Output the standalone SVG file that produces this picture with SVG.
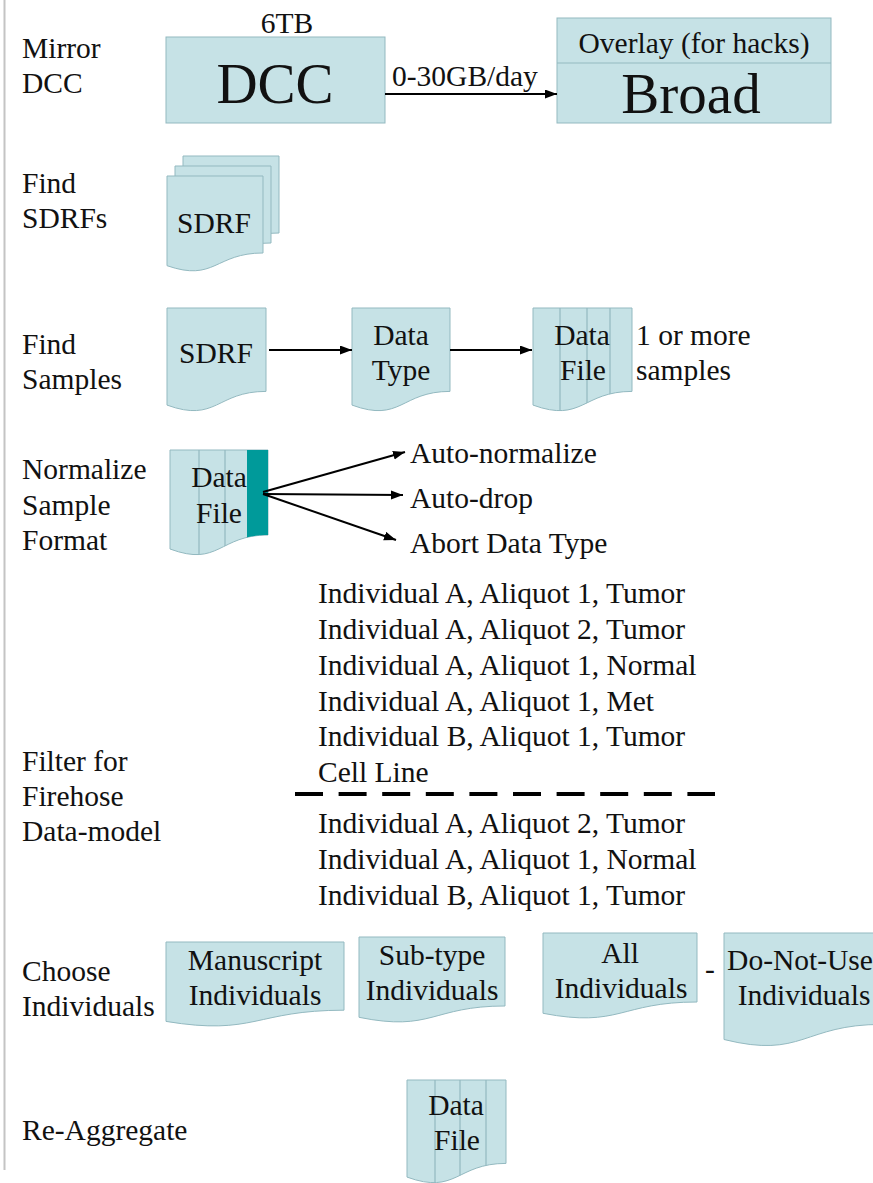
<svg xmlns="http://www.w3.org/2000/svg" width="873" height="1183" viewBox="0 0 873 1183">
<style>
.t{font-family:"Liberation Serif","Times New Roman",serif;font-size:29.5px;fill:#111}
.c{text-anchor:middle}
.big{font-size:57px}
.doc{fill:#c6e2e6;stroke:#93b9c0;stroke-width:1}
.col{stroke:#93b9c0;stroke-width:1.2;fill:none}
.arr{stroke:#000;stroke-width:2;fill:none;marker-end:url(#ah)}
</style>
<defs>
<marker id="ah" markerUnits="userSpaceOnUse" markerWidth="13" markerHeight="10" refX="12" refY="4.5" orient="auto">
<path d="M0,0 L12,4.5 L0,9 z" fill="#000"/>
</marker>
<clipPath id="cpDF1"><path d="M533,308 H632 V391.4 C582.5,391.4 582.5,423.1 533,405.1 Z"/></clipPath>
<clipPath id="cpDF2"><path d="M170,450 H268 V535 C219,535 219,567.3 170,549 Z"/></clipPath>
<clipPath id="cpDF3"><path d="M407,1080 H506 V1163.4 C456.5,1163.4 456.5,1195.1 407,1177.1 Z"/></clipPath>
</defs>

<line x1="4.5" y1="0" x2="4.5" y2="1170" stroke="#c4c4c4" stroke-width="2"/>

<g id="labels">
<text class="t" x="22" y="58">Mirror</text>
<text class="t" x="22" y="93">DCC</text>
<text class="t" x="22" y="193">Find</text>
<text class="t" x="22" y="228">SDRFs</text>
<text class="t" x="22" y="354">Find</text>
<text class="t" x="22" y="389">Samples</text>
<text class="t" x="22" y="479">Normalize</text>
<text class="t" x="22" y="515">Sample</text>
<text class="t" x="22" y="550">Format</text>
<text class="t" x="22" y="771">Filter for</text>
<text class="t" x="22" y="806">Firehose</text>
<text class="t" x="22" y="841">Data-model</text>
<text class="t" x="22" y="981">Choose</text>
<text class="t" x="22" y="1016">Individuals</text>
<text class="t" x="22" y="1140">Re-Aggregate</text>
</g>

<g id="dcc">
<rect class="doc" x="166" y="37" width="219" height="86"/>
<text class="t c" x="287" y="33">6TB</text>
<text class="t c big" x="275" y="103">DCC</text>
</g>

<g id="broad">
<rect class="doc" x="557" y="18" width="274" height="105"/>
<line x1="557" y1="63" x2="831" y2="63" stroke="#93b9c0" stroke-width="1.2"/>
<text class="t c" x="694" y="53">Overlay (for hacks)</text>
<text class="t c big" x="691" y="113">Broad</text>
</g>

<g id="sdrf-stack">
<path class="doc" d="M183,156 H279 V233 C231,233 231,262.3 183,245.7 Z"/>
<path class="doc" d="M175,166 H271 V243 C223,243 223,272.3 175,255.7 Z"/>
<path class="doc" d="M167,176 H263 V253 C215,253 215,282.3 167,265.7 Z"/>
<text class="t c" x="214" y="233">SDRF</text>
</g>

<g id="sdrf">
<path class="doc" d="M167,308 H266 V391.4 C216.5,391.4 216.5,423.1 167,405.1 Z"/>
<text class="t c" x="216" y="363">SDRF</text>
</g>

<g id="datatype">
<path class="doc" d="M352,308 H450 V391.4 C401,391.4 401,423.1 352,405.1 Z"/>
<text class="t c" x="401" y="345">Data</text>
<text class="t c" x="401" y="380">Type</text>
</g>

<g id="datafile1">
<path class="doc" d="M533,308 H632 V391.4 C582.5,391.4 582.5,423.1 533,405.1 Z"/>
<g clip-path="url(#cpDF1)">
<line class="col" x1="560" y1="308" x2="560" y2="430"/>
<line class="col" x1="587" y1="308" x2="587" y2="430"/>
<line class="col" x1="610" y1="308" x2="610" y2="430"/>
</g>
<text class="t c" x="582" y="345">Data</text>
<text class="t c" x="583" y="380">File</text>
<text class="t" x="636" y="345">1 or more</text>
<text class="t" x="636" y="380">samples</text>
</g>

<g id="datafile-norm">
<path class="doc" d="M170,450 H268 V535 C219,535 219,567.3 170,549 Z"/>
<g clip-path="url(#cpDF2)">
<line class="col" x1="199" y1="450" x2="199" y2="575"/>
<line class="col" x1="225" y1="450" x2="225" y2="575"/>
<rect x="247" y="450" width="21" height="88" fill="#009a9a"/>
</g>
<text class="t c" x="219" y="487">Data</text>
<text class="t c" x="219" y="523">File</text>
</g>

<g id="norm-options">
<text class="t" x="410" y="463">Auto-normalize</text>
<text class="t" x="410" y="508">Auto-drop</text>
<text class="t" x="410" y="553">Abort Data Type</text>
</g>

<g id="sample-list">
<text class="t" x="318" y="603">Individual A, Aliquot 1, Tumor</text>
<text class="t" x="318" y="639">Individual A, Aliquot 2, Tumor</text>
<text class="t" x="318" y="675">Individual A, Aliquot 1, Normal</text>
<text class="t" x="318" y="711">Individual A, Aliquot 1, Met</text>
<text class="t" x="318" y="746">Individual B, Aliquot 1, Tumor</text>
<text class="t" x="318" y="782">Cell Line</text>
<line x1="295" y1="794" x2="715" y2="794" stroke="#000" stroke-width="4" stroke-dasharray="28 15.6"/>
<text class="t" x="318" y="833">Individual A, Aliquot 2, Tumor</text>
<text class="t" x="318" y="869">Individual A, Aliquot 1, Normal</text>
<text class="t" x="318" y="905">Individual B, Aliquot 1, Tumor</text>
</g>

<g id="manuscript">
<path class="doc" d="M166,942 H344 V1010.2 C255,1010.2 255,1036.1 166,1021.4 Z"/>
<text class="t c" x="255" y="970">Manuscript</text>
<text class="t c" x="255" y="1005">Individuals</text>
</g>

<g id="subtype">
<path class="doc" d="M359,937 H505 V1006 C432,1006 432,1032.2 359,1017.3 Z"/>
<text class="t c" x="432" y="965">Sub-type</text>
<text class="t c" x="432" y="1000">Individuals</text>
</g>

<g id="all">
<path class="doc" d="M543,933 H697 V1002 C620,1002 620,1028.2 543,1013.3 Z"/>
<text class="t c" x="620" y="963">All</text>
<text class="t c" x="621" y="998">Individuals</text>
</g>

<text class="t c" x="710" y="979">-</text>

<g id="donotuse">
<path class="doc" d="M724,933 H882 V1024.4 C803,1024.4 803,1059.2 724,1039.5 Z"/>
<text class="t c" x="800" y="970">Do-Not-Use</text>
<text class="t c" x="804" y="1005">Individuals</text>
</g>

<g id="datafile-final">
<path class="doc" d="M407,1080 H506 V1163.4 C456.5,1163.4 456.5,1195.1 407,1177.1 Z"/>
<g clip-path="url(#cpDF3)">
<line class="col" x1="435" y1="1080" x2="435" y2="1200"/>
<line class="col" x1="460" y1="1080" x2="460" y2="1200"/>
<line class="col" x1="486" y1="1080" x2="486" y2="1200"/>
</g>
<text class="t c" x="456" y="1115">Data</text>
<text class="t c" x="457" y="1150">File</text>
</g>

<g id="connectors">
<line class="arr" x1="385" y1="94" x2="557" y2="94"/>
<text class="t" x="392" y="86">0-30GB/day</text>
<line class="arr" x1="269" y1="350" x2="352" y2="350"/>
<line class="arr" x1="450" y1="350" x2="532" y2="350"/>
<line class="arr" x1="263" y1="492" x2="405" y2="452"/>
<line class="arr" x1="263" y1="494" x2="403" y2="495"/>
<line class="arr" x1="263" y1="494" x2="396" y2="540"/>
</g>
</svg>
